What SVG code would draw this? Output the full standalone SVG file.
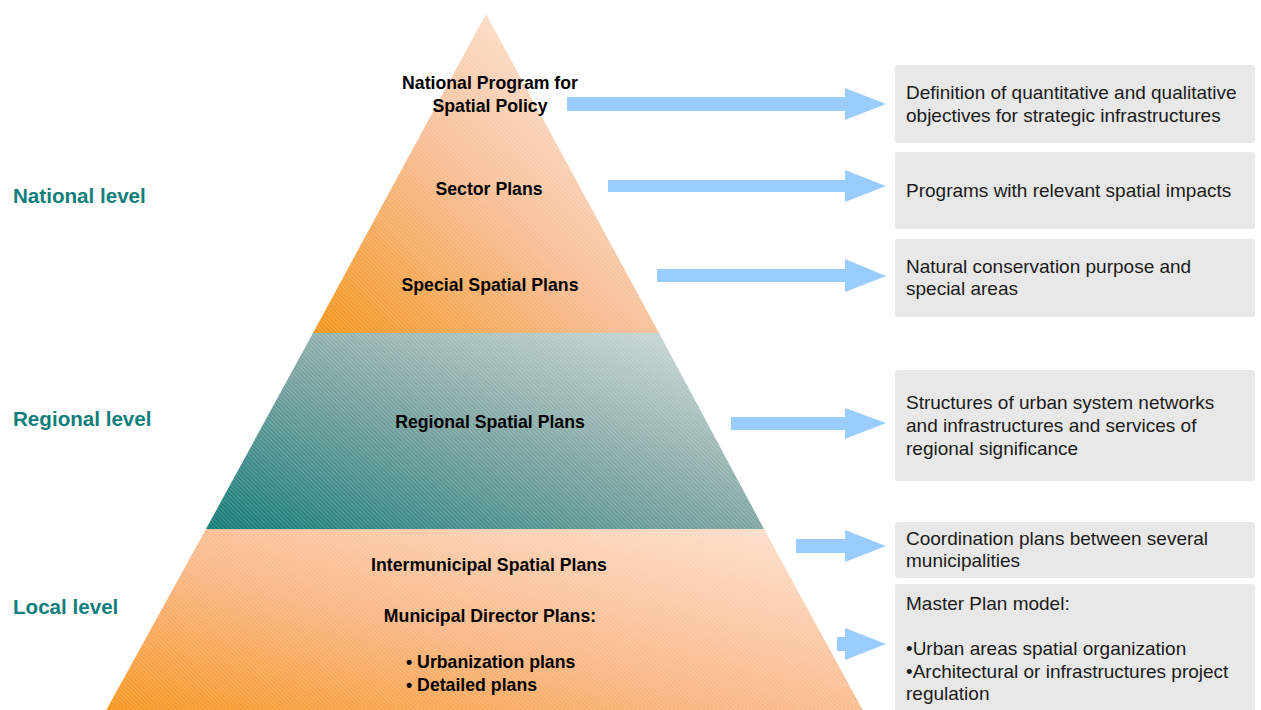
<svg xmlns="http://www.w3.org/2000/svg" width="1261" height="710" viewBox="0 0 1261 710">
<defs>
<linearGradient id="gTop" x1="0" y1="1" x2="1" y2="0">
<stop offset="0" stop-color="#F39417"/>
<stop offset="0.45" stop-color="#F7BC92"/>
<stop offset="1" stop-color="#FEF4EE"/>
</linearGradient>
<linearGradient id="gMid" x1="0" y1="1" x2="1" y2="0">
<stop offset="0" stop-color="#117A76"/>
<stop offset="0.5" stop-color="#7FA5A2"/>
<stop offset="1" stop-color="#D6E0DE"/>
</linearGradient>
<linearGradient id="gBot" x1="0" y1="1" x2="1" y2="0">
<stop offset="0" stop-color="#F6941A"/>
<stop offset="0.45" stop-color="#F9B786"/>
<stop offset="1" stop-color="#FEE3D3"/>
</linearGradient>
<pattern id="hatch" width="3" height="3" patternUnits="userSpaceOnUse" patternTransform="rotate(-45)">
<rect x="0" y="0" width="1" height="3" fill="#ffffff" fill-opacity="0.18"/>
</pattern>
</defs>
<style>
.lvl{font-family:"Liberation Sans",Arial,sans-serif;font-weight:bold;font-size:20.6px;fill:#0F7E7C}
.pt{font-family:"Liberation Sans",Arial,sans-serif;font-weight:bold;font-size:17.7px;fill:#000;text-anchor:middle}
.ptl{font-family:"Liberation Sans",Arial,sans-serif;font-weight:bold;font-size:17.7px;fill:#000}
.box{fill:#E8E8E8}
.bt{font-family:"Liberation Sans",Arial,sans-serif;font-size:19px;fill:#1A1A1A}
.arr{fill:#99CCFF}
</style>
<rect width="1261" height="710" fill="#ffffff"/>

<g id="levels">
<text class="lvl" x="13" y="203">National level</text>
<text class="lvl" x="13" y="426">Regional level</text>
<text class="lvl" x="13" y="614">Local level</text>
</g>

<g id="national">
<polygon points="486,14 313,333 659,333" fill="url(#gTop)"/>
<polygon points="486,14 313,333 659,333" fill="url(#hatch)"/>
<text class="pt" x="490" y="89">National Program for</text>
<text class="pt" x="490" y="112">Spatial Policy</text>
<text class="pt" x="489" y="195">Sector Plans</text>
<text class="pt" x="490" y="291">Special Spatial Plans</text>
</g>

<g id="regional">
<polygon points="313,333 659,333 764,529 206,529" fill="url(#gMid)"/>
<polygon points="313,333 659,333 764,529 206,529" fill="url(#hatch)"/>
<text class="pt" x="490" y="428">Regional Spatial Plans</text>
</g>

<g id="local">
<polygon points="206,529 764,529 866,716 103,716" fill="url(#gBot)"/>
<polygon points="206,529 764,529 866,716 103,716" fill="url(#hatch)"/>
<text class="pt" x="489" y="571">Intermunicipal Spatial Plans</text>
<text class="pt" x="490" y="622">Municipal Director Plans:</text>
<text class="ptl" x="406" y="668">• Urbanization plans</text>
<text class="ptl" x="406" y="691">• Detailed plans</text>
</g>

<g id="box1">
<rect class="box" x="895" y="65" width="360" height="78" rx="3"/>
<text class="bt" x="906" y="99">Definition of quantitative and qualitative</text>
<text class="bt" x="906" y="122">objectives for strategic infrastructures</text>
</g>
<g id="box2">
<rect class="box" x="895" y="152" width="360" height="77" rx="3"/>
<text class="bt" x="906" y="197">Programs with relevant spatial impacts</text>
</g>
<g id="box3">
<rect class="box" x="895" y="239" width="360" height="78" rx="3"/>
<text class="bt" x="906" y="273">Natural conservation purpose and</text>
<text class="bt" x="906" y="295">special areas</text>
</g>
<g id="box4">
<rect class="box" x="895" y="370" width="360" height="111" rx="3"/>
<text class="bt" x="906" y="409">Structures of urban system networks</text>
<text class="bt" x="906" y="432">and infrastructures and services of</text>
<text class="bt" x="906" y="455">regional significance</text>
</g>
<g id="box5">
<rect class="box" x="895" y="522" width="360" height="56" rx="3"/>
<text class="bt" x="906" y="545">Coordination plans between several</text>
<text class="bt" x="906" y="567">municipalities</text>
</g>
<g id="box6">
<rect class="box" x="895" y="584" width="360" height="132" rx="3"/>
<text class="bt" x="906" y="610">Master Plan model:</text>
<text class="bt" x="906" y="655">•Urban areas spatial organization</text>
<text class="bt" x="906" y="678">•Architectural or infrastructures project</text>
<text class="bt" x="906" y="700">regulation</text>
</g>

<g id="connectors">
<polygon class="arr" points="567,97 845,97 845,88 886,104 845,120 845,111 567,111"/>
<polygon class="arr" points="608,180 845,180 845,170 886,186 845,202 845,192 608,192"/>
<polygon class="arr" points="657,269 845,269 845,259 886,276 845,292 845,282 657,282"/>
<polygon class="arr" points="731,417 845,417 845,408 886,423 845,439 845,430 731,430"/>
<polygon class="arr" points="796,539 845,539 845,530 886,546 845,562 845,553 796,553"/>
<polygon class="arr" points="837,637 845,637 845,628 886,644 845,660 845,651 837,651"/>
</g>
</svg>
